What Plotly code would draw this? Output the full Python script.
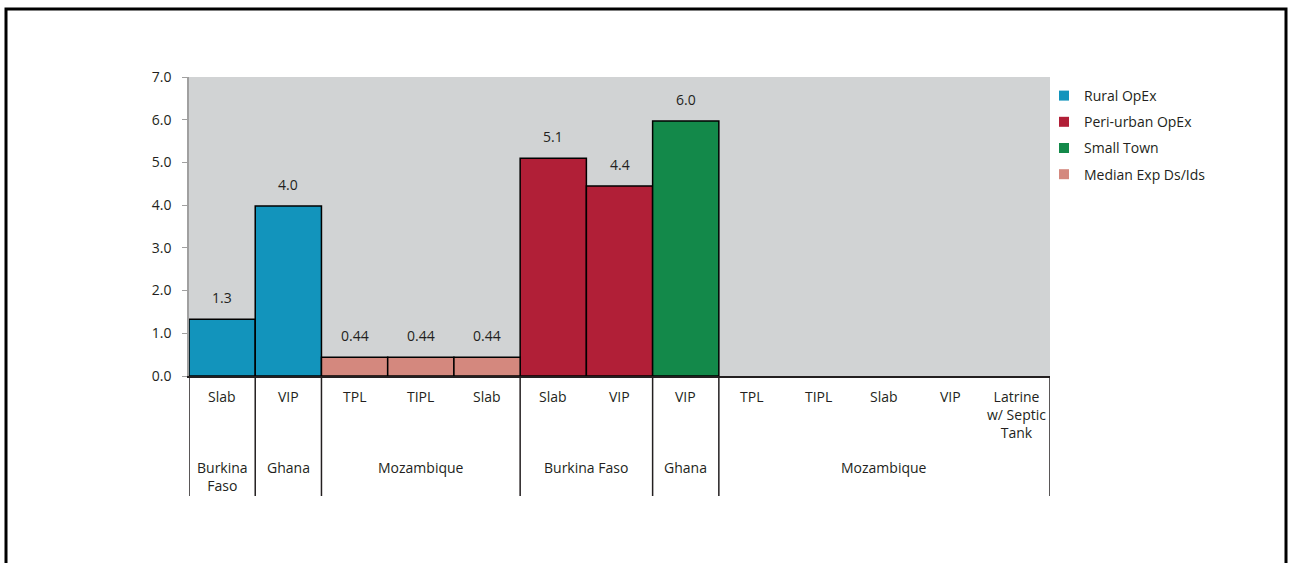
import plotly.graph_objects as go

# ---- data ----
categories = ["Slab", "VIP", "TPL", "TIPL", "Slab", "Slab", "VIP", "VIP",
              "TPL", "TIPL", "Slab", "VIP", "Latrine<br>w/ Septic<br>Tank"]
group_labels = ["Burkina<br>Faso", "Ghana", "Mozambique", "Burkina Faso", "Ghana", "Mozambique"]
group_sizes = [1, 1, 3, 2, 1, 5]

series_names = ["Rural OpEx", "Peri-urban OpEx", "Small Town", "Median Exp Ds/Ids"]
series_colors = ["#1294BC", "#B11F37", "#13894A", "#D4887E"]
rural_pos = [0, 1]
rural_vals = [1.33, 3.98]
rural_text = ["1.3", "4.0"]
peri_pos = [5, 6]
peri_vals = [5.1, 4.45]
peri_text = ["5.1", "4.4"]
town_pos = [7]
town_vals = [5.97]
town_text = ["6.0"]
median_pos = [2, 3, 4]
median_vals = [0.44, 0.44, 0.44]
median_text = ["0.44", "0.44", "0.44"]

y_ticks = [0, 1, 2, 3, 4, 5, 6, 7]

FONT = "Open Sans"
TXT = "#231F20"
FS = 14

W, H = 1290, 563
ML, MR, MT, MB = 189, 240, 77, 187
PW, PH = W - ML - MR, H - MT - MB


def py(pix):  # pixel y -> paper y
    return (H - MB - pix) / PH


def px(pix):
    return (pix - ML) / PW


fig = go.Figure()

series = [
    (rural_pos, rural_vals, rural_text),
    (peri_pos, peri_vals, peri_text),
    (town_pos, town_vals, town_text),
    (median_pos, median_vals, median_text),
]

annotations = []
for (pos, vals, txt), name, col in zip(series, series_names, series_colors):
    fig.add_trace(go.Bar(
        x=pos, y=vals, width=1, name=name, showlegend=False,
        marker=dict(color=col, line=dict(color="black", width=1.5)),
        hoverinfo="skip",
    ))
    fig.add_trace(go.Scatter(
        x=[None], y=[None], mode="markers", name=name, legendgroup=name,
        marker=dict(symbol="square", size=10, color=col),
    ))
    for p, v, t in zip(pos, vals, txt):
        annotations.append(dict(x=p, y=v, text=t, showarrow=False, xref="x", yref="y",
                                yanchor="bottom", yshift=10,
                                font=dict(family=FONT, size=FS, color=TXT)))

# inner category labels
for i, c in enumerate(categories):
    annotations.append(dict(x=i, y=py(385), text=c, showarrow=False, xref="x", yref="paper",
                            yanchor="top", font=dict(family=FONT, size=FS, color=TXT)))

shapes = []
start = 0
bounds = [-0.5]
for g, n in zip(group_labels, group_sizes):
    center = start + (n - 1) / 2
    annotations.append(dict(x=center, y=py(456), text=g, showarrow=False, xref="x", yref="paper",
                            yanchor="top", font=dict(family=FONT, size=FS, color=TXT)))
    start += n
    bounds.append(start - 0.5)

for b in bounds:
    shapes.append(dict(type="line", xref="x", yref="paper", x0=b, x1=b, y0=0, y1=py(496),
                       line=dict(color="#231F20", width=1.5)))

# outer frame
shapes.append(dict(type="rect", xref="paper", yref="paper",
                   x0=px(6), x1=px(1286), y0=py(9), y1=py(600),
                   line=dict(color="black", width=3)))

fig.update_layout(
    width=W, height=H,
    margin=dict(l=ML, r=MR, t=MT, b=MB),
    paper_bgcolor="white",
    plot_bgcolor="#D1D3D4",
    barmode="overlay",
    font=dict(family=FONT, size=FS, color=TXT),
    showlegend=True,
    legend=dict(x=px(1044), y=py(80), xanchor="left", yanchor="top",
                bgcolor="rgba(0,0,0,0)", tracegroupgap=5,
                font=dict(family=FONT, size=FS, color=TXT)),
    annotations=annotations,
    shapes=shapes,
    xaxis=dict(range=[-0.5, len(categories) - 0.5], showticklabels=False, ticks="",
               showgrid=False, zeroline=False, showline=True, linecolor="#231F20",
               linewidth=2, fixedrange=True),
    yaxis=dict(range=[0, 7], tickvals=y_ticks, tickformat=".1f", ticks="outside",
               ticklen=5, tickcolor="#A0A0A0", showgrid=False, zeroline=False,
               showline=True, linecolor="#A0A0A0", linewidth=1.5,
               ticklabelstandoff=8, fixedrange=True),
)

fig.write_html("out.html")
